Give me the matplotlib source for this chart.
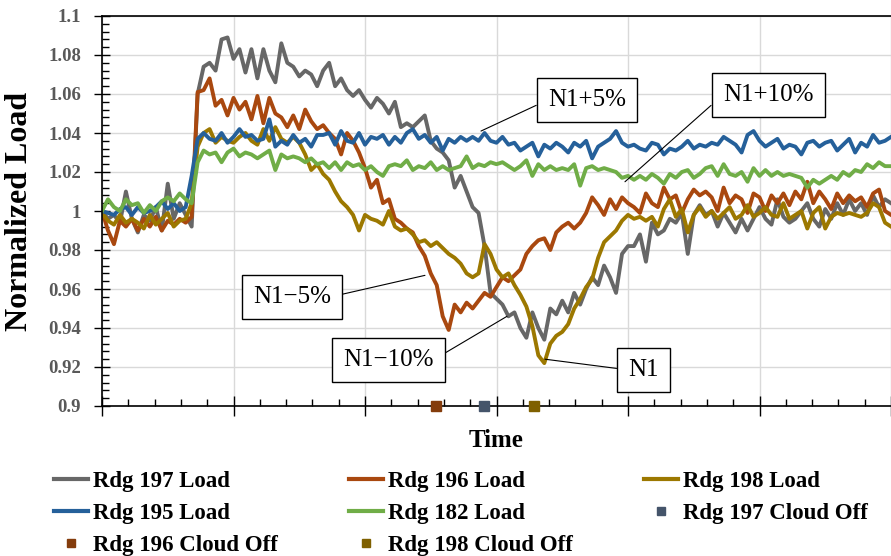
import matplotlib
matplotlib.use("Agg")
import matplotlib.pyplot as plt
from matplotlib.lines import Line2D
from matplotlib.ticker import MultipleLocator, FuncFormatter
import numpy as np

plt.rcParams['font.family'] = ['Liberation Serif', 'DejaVu Serif']

# ============================================================
# data (normalized load, one sample per time step)
# ============================================================
steps_per_div = 22          # samples between two major gridlines
n_div = 6

rdg197 = [1.000, 0.996, 0.998, 0.994, 1.010, 0.996, 0.989, 0.998, 0.995, 1.002,
          0.990, 1.014, 0.996, 1.004, 0.998, 0.992, 1.060, 1.074, 1.076, 1.072,
          1.088, 1.089, 1.078, 1.083, 1.071, 1.083, 1.068, 1.083, 1.072, 1.066,
          1.086, 1.076, 1.074, 1.069, 1.072, 1.070, 1.064, 1.072, 1.076, 1.064,
          1.068, 1.062, 1.059, 1.062, 1.057, 1.053, 1.058, 1.055, 1.050, 1.056,
          1.043, 1.045, 1.043, 1.046, 1.049, 1.036, 1.032, 1.030, 1.026, 1.012,
          1.018, 1.010, 1.002, 0.999, 0.982, 0.958, 0.955, 0.952, 0.946, 0.948,
          0.940, 0.935, 0.948, 0.940, 0.934, 0.950, 0.947, 0.954, 0.948, 0.958,
          0.952, 0.960, 0.966, 0.962, 0.972, 0.966, 0.958, 0.978, 0.982, 0.982,
          0.988, 0.974, 0.994, 0.988, 0.990, 0.996, 0.994, 0.999, 0.978, 0.998,
          1.003, 0.998, 1.000, 0.992, 0.999, 0.994, 0.989, 0.996, 0.990, 0.996,
          1.002, 0.996, 0.993, 1.006, 0.997, 0.994, 0.996, 1.000, 1.004, 0.996,
          0.992, 1.001, 0.996, 1.004, 0.998, 1.006, 1.000, 1.004, 0.998, 1.008,
          1.002, 1.006, 1.004]

rdg196 = [1.000, 0.990, 0.983, 0.995, 0.992, 0.996, 0.990, 0.996, 0.992, 0.997,
          0.990, 0.995, 0.993, 0.996, 0.994, 0.997, 1.061, 1.062, 1.068, 1.054,
          1.057, 1.049, 1.058, 1.052, 1.056, 1.047, 1.059, 1.045, 1.058, 1.050,
          1.048, 1.043, 1.049, 1.042, 1.052, 1.046, 1.042, 1.044, 1.040, 1.037,
          1.029, 1.040, 1.036, 1.030, 1.022, 1.012, 1.016, 1.004, 1.006, 0.996,
          0.994, 0.991, 0.989, 0.982, 0.977, 0.968, 0.962, 0.946, 0.939, 0.952,
          0.948, 0.953, 0.950, 0.954, 0.958, 0.956, 0.961, 0.966, 0.964, 0.967,
          0.970, 0.978, 0.982, 0.985, 0.986, 0.980, 0.989, 0.992, 0.994, 0.991,
          0.994, 0.999, 1.007, 1.003, 0.998, 1.006, 1.001, 1.007, 1.004, 1.002,
          0.999, 1.009, 1.004, 1.002, 1.012, 1.006, 1.008, 0.999, 1.006, 1.011,
          1.008, 1.010, 1.007, 1.000, 1.012, 1.004, 1.008, 1.006, 0.999, 1.009,
          1.007, 1.000, 1.008, 1.004, 1.009, 1.003, 1.010, 1.006, 1.015, 1.004,
          1.010, 1.006, 1.001, 1.009, 1.004, 1.008, 1.005, 1.007, 1.002, 1.009,
          1.011, 1.000, 0.998]

rdg198 = [0.999, 0.995, 0.993, 0.998, 0.994, 0.996, 0.994, 0.991, 0.998, 0.993,
          0.996, 0.999, 0.992, 0.995, 0.996, 1.004, 1.033, 1.040, 1.042, 1.035,
          1.038, 1.036, 1.035, 1.038, 1.040, 1.036, 1.034, 1.042, 1.036, 1.043,
          1.037, 1.035, 1.038, 1.035, 1.029, 1.021, 1.024, 1.019, 1.016, 1.010,
          1.005, 1.002, 0.998, 0.990, 0.998, 0.996, 0.995, 0.993, 1.000, 0.992,
          0.990, 0.991, 0.988, 0.984, 0.985, 0.982, 0.984, 0.981, 0.978, 0.976,
          0.973, 0.968, 0.966, 0.968, 0.983, 0.978, 0.970, 0.966, 0.968, 0.962,
          0.957, 0.951, 0.941, 0.926, 0.922, 0.932, 0.936, 0.938, 0.942, 0.950,
          0.955, 0.961, 0.965, 0.976, 0.984, 0.987, 0.990, 0.995, 0.998, 0.996,
          0.997, 0.995, 0.997, 0.992, 1.001, 1.006, 0.997, 1.001, 0.989, 0.998,
          1.002, 0.997, 1.000, 0.996, 0.999, 1.002, 0.996, 0.998, 1.003, 0.997,
          0.999, 1.002, 0.998, 0.997, 1.004, 0.996, 0.998, 1.000, 0.991, 0.999,
          1.002, 0.991, 0.997, 0.999, 0.998, 0.999, 0.998, 0.997, 0.999, 1.004,
          1.002, 0.994, 0.992]

rdg195 = [1.000, 0.999, 0.998, 1.001, 1.002, 0.998, 1.002, 0.999, 1.000, 1.002,
          1.005, 1.001, 1.004, 1.000, 1.002, 1.018, 1.037, 1.040, 1.037, 1.036,
          1.040, 1.035, 1.038, 1.042, 1.038, 1.039, 1.036, 1.037, 1.047, 1.033,
          1.036, 1.034, 1.039, 1.035, 1.037, 1.033, 1.039, 1.039, 1.040, 1.034,
          1.041, 1.036, 1.035, 1.040, 1.034, 1.038, 1.037, 1.039, 1.034, 1.038,
          1.035, 1.040, 1.042, 1.037, 1.039, 1.035, 1.038, 1.031, 1.037, 1.035,
          1.038, 1.036, 1.038, 1.036, 1.040, 1.036, 1.035, 1.038, 1.034, 1.035,
          1.031, 1.033, 1.035, 1.028, 1.034, 1.032, 1.035, 1.033, 1.030, 1.035,
          1.033, 1.036, 1.027, 1.033, 1.035, 1.037, 1.041, 1.035, 1.033, 1.034,
          1.032, 1.031, 1.035, 1.034, 1.029, 1.032, 1.031, 1.033, 1.036, 1.032,
          1.034, 1.033, 1.035, 1.034, 1.038, 1.036, 1.034, 1.030, 1.039, 1.041,
          1.036, 1.033, 1.035, 1.037, 1.032, 1.034, 1.033, 1.029, 1.035, 1.036,
          1.033, 1.035, 1.036, 1.031, 1.034, 1.037, 1.030, 1.035, 1.033, 1.039,
          1.035, 1.036, 1.038]

rdg182 = [1.000, 1.006, 1.002, 1.000, 1.006, 1.003, 1.004, 0.999, 1.003, 1.000,
          1.005, 1.007, 1.005, 1.009, 1.006, 1.004, 1.025, 1.031, 1.029, 1.030,
          1.025, 1.030, 1.032, 1.028, 1.030, 1.029, 1.027, 1.029, 1.031, 1.021,
          1.029, 1.027, 1.028, 1.027, 1.025, 1.027, 1.024, 1.025, 1.022, 1.025,
          1.021, 1.025, 1.023, 1.024, 1.021, 1.023, 1.020, 1.018, 1.023, 1.024,
          1.023, 1.026, 1.021, 1.023, 1.022, 1.025, 1.021, 1.023, 1.021, 1.022,
          1.023, 1.028, 1.022, 1.024, 1.023, 1.025, 1.024, 1.025, 1.023, 1.021,
          1.023, 1.026, 1.018, 1.024, 1.021, 1.023, 1.021, 1.022, 1.021, 1.024,
          1.013, 1.022, 1.023, 1.021, 1.022, 1.021, 1.020, 1.017, 1.018, 1.016,
          1.018, 1.016, 1.019, 1.017, 1.014, 1.019, 1.017, 1.020, 1.021, 1.017,
          1.019, 1.022, 1.023, 1.018, 1.024, 1.019, 1.018, 1.020, 1.015, 1.022,
          1.018, 1.021, 1.018, 1.020, 1.018, 1.019, 1.018, 1.017, 1.012, 1.016,
          1.014, 1.016, 1.018, 1.016, 1.020, 1.018, 1.021, 1.020, 1.024, 1.022,
          1.025, 1.023, 1.023]

# cloud-off instants (in gridline divisions)
cloud_off_196 = 2.54
cloud_off_197 = 2.905
cloud_off_198 = 3.285

t = np.arange(len(rdg197)) / steps_per_div

# ============================================================
# styles
# ============================================================
c197 = '#676767'
c196 = '#A9480F'
c198 = '#9C7800'
c195 = '#25609A'
c182 = '#70AD47'
m196 = '#843C0C'
m197 = '#44546A'
m198 = '#7F6000'
lw = 2.8

fig = plt.figure(figsize=(8.91, 5.56), dpi=100)
ax = fig.add_axes([102 / 891, 1 - 406 / 556, 1 - 102 / 891, 390 / 556])

ax.plot(t, rdg197, color=c197, lw=lw, label='Rdg 197 Load')
ax.plot(t, rdg196, color=c196, lw=lw, label='Rdg 196 Load')
ax.plot(t, rdg198, color=c198, lw=lw, label='Rdg 198 Load')
ax.plot(t, rdg195, color=c195, lw=lw, label='Rdg 195 Load')
ax.plot(t, rdg182, color=c182, lw=lw, label='Rdg 182 Load')

ax.plot([cloud_off_196], [0.9], 's', color=m196, ms=7, clip_on=False, zorder=5)
ax.plot([cloud_off_197], [0.9], 's', color=m197, ms=7, clip_on=False, zorder=5)
ax.plot([cloud_off_198], [0.9], 's', color=m198, ms=7, clip_on=False, zorder=5)

ax.set_xlim(0, n_div)
ax.set_ylim(0.9, 1.1)
ax.xaxis.set_major_locator(MultipleLocator(1))
ax.xaxis.set_minor_locator(MultipleLocator(0.2))
ax.yaxis.set_major_locator(MultipleLocator(0.02))
ax.yaxis.set_minor_locator(MultipleLocator(0.004))
ax.yaxis.set_major_formatter(FuncFormatter(lambda v, p: f"{v:g}"))
ax.set_xticklabels([])

ax.tick_params(axis='x', which='major', direction='inout', length=14, width=1)
ax.tick_params(axis='x', which='minor', direction='in', length=5, width=1)
ax.tick_params(axis='y', which='major', direction='inout', length=12, width=1,
               labelsize=13.5, labelcolor='#595959', pad=9)
ax.tick_params(axis='y', which='minor', direction='in', length=5, width=1)
for lab in ax.get_yticklabels():
    lab.set_fontweight('bold')

ax.grid(True, which='major', color='#D9D9D9', lw=1)
ax.set_axisbelow(True)
ax.spines['right'].set_visible(False)
for s in ['left', 'bottom', 'top']:
    ax.spines[s].set_linewidth(1.2)

ax.set_ylabel('Normalized Load', fontsize=23, fontweight='bold', labelpad=10)
ax.set_xlabel('Time', fontsize=18, fontweight='bold', labelpad=6)

# callouts
box = dict(boxstyle='square,pad=0.45', fc='white', ec='black', lw=1)
def callout(txt, xy, xytext, rel):
    ax.annotate(txt, xy=xy, xytext=xytext, fontsize=18, ha='center', va='center',
                bbox=box, zorder=6,
                arrowprops=dict(arrowstyle='-', color='black', lw=0.8,
                                relpos=rel, shrinkA=0, shrinkB=0))

callout('N1+5%', (2.882, 1.041), (3.688, 1.057), (0, 0.5))
callout('N1+10%', (3.977, 1.015), (5.065, 1.0595), (0, 0.5))
callout('N1\u22125%', (2.456, 0.967), (1.445, 0.956), (1, 0.5))
callout('N1\u221210%', (3.080, 0.946), (2.175, 0.9236), (1, 0.5))
callout('N1', (3.369, 0.924), (4.118, 0.9185), (0, 0.5))

# legend, filled column by column so it reads row by row
h = {
    '197': Line2D([], [], color=c197, lw=3),
    '196': Line2D([], [], color=c196, lw=3),
    '198': Line2D([], [], color=c198, lw=3),
    '195': Line2D([], [], color=c195, lw=3),
    '182': Line2D([], [], color=c182, lw=3),
    'o197': Line2D([], [], ls='none', marker='s', color=m197, ms=6),
    'o196': Line2D([], [], ls='none', marker='s', color=m196, ms=6),
    'o198': Line2D([], [], ls='none', marker='s', color=m198, ms=6),
}
order = [('197', 'Rdg 197 Load'), ('195', 'Rdg 195 Load'), ('o196', 'Rdg 196 Cloud Off'),
         ('196', 'Rdg 196 Load'), ('182', 'Rdg 182 Load'), ('o198', 'Rdg 198 Cloud Off'),
         ('198', 'Rdg 198 Load'), ('o197', 'Rdg 197 Cloud Off')]
fig.legend([h[k] for k, _ in order], [l for _, l in order], ncol=3,
           loc='upper left', bbox_to_anchor=(54 / 891, 1 - 471 / 556),
           frameon=False, prop={'size': 16.5, 'weight': 'bold'},
           handlelength=1.5, handletextpad=0.2, columnspacing=3.1,
           labelspacing=0.48, borderaxespad=0, borderpad=0)

fig.savefig('out.png', dpi=100)
